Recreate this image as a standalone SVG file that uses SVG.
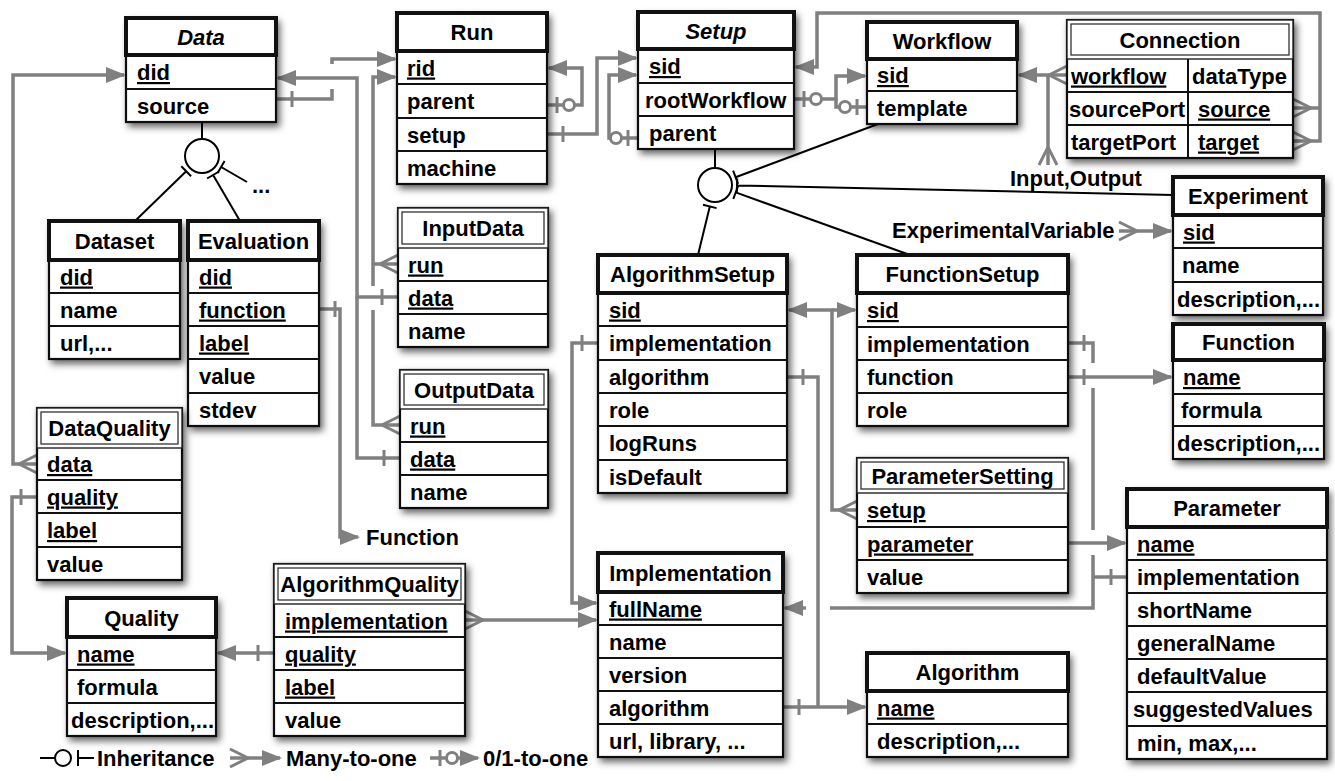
<svg xmlns="http://www.w3.org/2000/svg" width="1335" height="781" viewBox="0 0 1335 781">
<defs>
<filter id="sh" x="-10%" y="-10%" width="130%" height="130%">
<feDropShadow dx="3" dy="4" stdDeviation="3.5" flood-color="#000" flood-opacity="0.6"/>
</filter>
<marker id="arr" markerUnits="userSpaceOnUse" orient="auto" refX="0" refY="0" markerWidth="40" markerHeight="40" overflow="visible"><path d="M-18,-8 L2,0 L-18,8 Z" fill="#808080"/></marker>
<marker id="many" markerUnits="userSpaceOnUse" orient="auto" refX="0" refY="0" markerWidth="40" markerHeight="40" overflow="visible"><path d="M0,-9 L18,0 L0,9" fill="none" stroke="#808080" stroke-width="3"/></marker>
<marker id="one" markerUnits="userSpaceOnUse" orient="auto" refX="0" refY="0" markerWidth="40" markerHeight="40" overflow="visible"><path d="M16,-8 V8" stroke="#808080" stroke-width="3"/></marker>
<marker id="zo" markerUnits="userSpaceOnUse" orient="auto" refX="0" refY="0" markerWidth="40" markerHeight="40" overflow="visible"><path d="M10,-8 V8" stroke="#808080" stroke-width="3"/><circle cx="22" cy="0" r="5.5" fill="#fff" stroke="#808080" stroke-width="3"/></marker>
</defs>
<style>
text{font-family:"Liberation Sans",Arial,Helvetica,sans-serif;font-weight:bold;font-size:22px;fill:#000}
.h{text-anchor:middle}
.i{font-style:italic}
.k{text-decoration:underline}
.box{fill:#fff;stroke:#111;stroke-width:2.2;filter:url(#sh)}
.hd{fill:#fff;stroke:#111;stroke-width:4}
.hw{fill:#fff;stroke:#222;stroke-width:1.4}
.hi{fill:none;stroke:#222;stroke-width:1.2}
.sep{stroke:#111;stroke-width:2;fill:none}
.c{fill:none;stroke:#808080;stroke-width:3.5}
.s1{marker-start:url(#one)}
.sz{marker-start:url(#zo)}
.sm{marker-start:url(#many)}
.ea{marker-end:url(#arr)}
.inh{fill:none;stroke:#000;stroke-width:2}
</style>
<rect width="1335" height="781" fill="#fff"/>

<g id="connectors">
<!-- Data.source -> Run.rid -->
<path class="c s1" d="M276,99 H332 V89"/>
<path class="c ea" d="M332,64 V59 H395"/>
<!-- InputData.data / OutputData.data -> Data.did -->
<path class="c s1 ea" d="M398,297 H357 V78 H278"/>
<path class="c s1" d="M400,458 H357 V297"/>
<!-- InputData.run / OutputData.run -> Run.rid -->
<path class="c sm" d="M398,264 H373"/>
<path class="c ea" d="M373,286 V77 H395"/>
<path class="c sm" d="M400,425 H373 V310"/>
<!-- Run.parent -> Run.rid -->
<path class="c sz ea" d="M547,105 H582 V68 H549"/>
<!-- Run.setup -> Setup.sid -->
<path class="c s1 ea" d="M547,134 H597 V58 H636"/>
<!-- Setup.parent -> Setup.sid -->
<path class="c sz ea" d="M638,138 H609 V75 H636"/>
<!-- Setup.rootWorkflow -> Workflow.sid -->
<path class="c sz ea" d="M794,99 H836 V76 H865"/>
<!-- Workflow.template -> Workflow.sid -->
<path class="c sz" d="M867,107 H836 V99"/>
<!-- Connection.workflow -> Workflow.sid -->
<path class="c sm ea" d="M1067,75 H1019"/>
<path class="c sm" d="M1048,165 V75"/>
<!-- Connection.source / target -> Setup.sid -->
<path class="c sm" d="M1293,108 H1320"/>
<path class="c sm ea" d="M1293,141 H1320 V13 H817 V67 H796"/>
<!-- ExperimentalVariable -> Experiment.sid -->
<path class="c sm ea" d="M1119,231 H1171"/>
<!-- ParameterSetting.setup -> AlgorithmSetup.sid / FunctionSetup.sid -->
<path class="c sm ea" d="M857,510 H832 V310 H789"/>
<path class="c ea" d="M832,310 H855"/>
<!-- AlgorithmSetup.implementation -> Implementation.fullName -->
<path class="c s1 ea" d="M598,343 H572 V603 H596"/>
<!-- AlgorithmQuality.implementation -> Implementation.fullName -->
<path class="c sm ea" d="M465,620 H596"/>
<!-- AlgorithmQuality.quality -> Quality.name -->
<path class="c s1 ea" d="M274,653 H218"/>
<!-- DataQuality.quality -> Quality.name -->
<path class="c s1 ea" d="M37,497 H12 V653 H65"/>
<!-- DataQuality.data -> Data.did -->
<path class="c sm ea" d="M37,464 H13 V75 H124"/>
<!-- Evaluation.function -> Function -->
<path class="c s1 ea" d="M319,309 H340 V537 H358"/>
<!-- AlgorithmSetup.algorithm / Implementation.algorithm -> Algorithm.name -->
<path class="c s1" d="M787,377 H818 V707"/>
<path class="c s1 ea" d="M783,707 H865"/>
<!-- FunctionSetup.function -> Function.name -->
<path class="c s1 ea" d="M1068,377 H1171"/>
<!-- FunctionSetup.implementation / Parameter.implementation -> Implementation.fullName -->
<path class="c s1" d="M1068,343 H1093 V363"/>
<path class="c" d="M1093,388 V530"/>
<path class="c" d="M1093,555 V608 H830"/>
<path class="c ea" d="M806,608 H785"/>
<path class="c s1" d="M1127,577 H1093"/>
<!-- ParameterSetting.parameter -> Parameter.name -->
<path class="c ea" d="M1068,543 H1125"/>

<!-- inheritance: Data -->
<path class="inh" d="M202,122 V139"/>
<circle class="inh" cx="202" cy="156" r="17"/>
<path class="inh" d="M181.3,166.3 L191.1,176.3 M186.2,171.3 L135,221"/>
<path class="inh" d="M207.1,178.5 L219.1,171.5 M213.1,175 L240,221"/>
<path class="inh" d="M217.6,173.1 L224.6,160.9 M221.1,167 L247,182"/>
<!-- inheritance: Setup -->
<path class="inh" d="M715,149 V168"/>
<circle class="inh" cx="715" cy="185" r="17"/>
<path class="inh" d="M703,204.8 L716.6,208.1 M709.8,206.4 L698,255"/>
<path class="inh" d="M733.1,170.7 L738.1,183.9 M735.6,177.3 L878,124"/>
<path class="inh" d="M737.2,178.5 L736.8,192.5 M737,185.5 L1173,195"/>
<path class="inh" d="M738.1,185.8 L733.3,199 M735.7,192.4 L910,255"/>
</g>

<g id="labels">
<text x="252" y="193">...</text>
<text x="1010" y="186">Input,Output</text>
<text x="892" y="238">ExperimentalVariable</text>
<text x="366" y="545">Function</text>
</g>

<g id="Data">
<rect class="box" x="126" y="18" width="150" height="104"/>
<rect class="hd" x="126" y="18" width="150" height="37"/>
<path class="sep" d="M126,89H276"/>
<text class="h i" x="201" y="44.5">Data</text>
<text class="k" x="137" y="80">did</text>
<text x="137" y="113.5">source</text>
</g>

<g id="Run">
<rect class="box" x="397" y="13" width="150" height="171"/>
<rect class="hd" x="397" y="13" width="150" height="38"/>
<path class="sep" d="M397,84H547M397,118H547M397,151H547"/>
<text class="h" x="472" y="40">Run</text>
<text class="k" x="407" y="75.5">rid</text>
<text x="407" y="109">parent</text>
<text x="407" y="142.5">setup</text>
<text x="407" y="175.5">machine</text>
</g>

<g id="Setup">
<rect class="box" x="638" y="12" width="156" height="137"/>
<rect class="hd" x="638" y="12" width="156" height="37"/>
<path class="sep" d="M638,83H794M638,116H794"/>
<text class="h i" x="716" y="38.5">Setup</text>
<text class="k" x="649" y="74">sid</text>
<text x="645" y="107.5">rootWorkflow</text>
<text x="649" y="140.5">parent</text>
</g>

<g id="Workflow">
<rect class="box" x="867" y="22" width="150" height="102"/>
<rect class="hd" x="867" y="22" width="150" height="37"/>
<path class="sep" d="M867,91H1017"/>
<text class="h" x="942" y="48.5">Workflow</text>
<text class="k" x="877" y="83">sid</text>
<text x="877" y="115.5">template</text>
</g>

<g id="Connection">
<rect class="box" x="1067" y="20" width="226" height="138"/>
<rect class="hw" x="1067" y="20" width="226" height="39"/>
<rect class="hi" x="1071" y="24" width="218" height="31"/>
<path class="sep" d="M1067,92H1293M1067,125H1293M1188,59V158"/>
<text class="h" x="1180" y="47.5">Connection</text>
<text class="k" x="1071" y="83.5">workflow</text>
<text x="1192" y="83.5">dataType</text>
<text x="1069" y="116.5">sourcePort</text>
<text class="k" x="1198" y="116.5">source</text>
<text x="1071" y="149.5">targetPort</text>
<text class="k" x="1198" y="149.5">target</text>
</g>

<g id="Experiment">
<rect class="box" x="1173" y="177" width="150" height="138"/>
<rect class="hd" x="1173" y="177" width="150" height="38"/>
<path class="sep" d="M1173,248H1323M1173,282H1323"/>
<text class="h" x="1248" y="204">Experiment</text>
<text class="k" x="1183" y="239.5">sid</text>
<text x="1182" y="273">name</text>
<text x="1177" y="306.5">description,...</text>
</g>

<g id="Dataset">
<rect class="box" x="49" y="221" width="131" height="138"/>
<rect class="hd" x="49" y="221" width="131" height="39"/>
<path class="sep" d="M49,293H180M49,326H180"/>
<text class="h" x="114.5" y="248.5">Dataset</text>
<text class="k" x="60" y="284.5">did</text>
<text x="60" y="317.5">name</text>
<text x="60" y="350.5">url,...</text>
</g>

<g id="Evaluation">
<rect class="box" x="188" y="221" width="131" height="205"/>
<rect class="hd" x="188" y="221" width="131" height="39"/>
<path class="sep" d="M188,293H319M188,326H319M188,359H319M188,393H319"/>
<text class="h" x="253.5" y="248.5">Evaluation</text>
<text class="k" x="199" y="284.5">did</text>
<text class="k" x="199" y="317.5">function</text>
<text class="k" x="199" y="350.5">label</text>
<text x="199" y="384">value</text>
<text x="199" y="417.5">stdev</text>
</g>

<g id="InputData">
<rect class="box" x="398" y="208" width="150" height="139"/>
<rect class="hw" x="398" y="208" width="150" height="40"/>
<rect class="hi" x="402" y="212" width="142" height="32"/>
<path class="sep" d="M398,281H548M398,314H548"/>
<text class="h" x="473" y="236">InputData</text>
<text class="k" x="408" y="272.5">run</text>
<text class="k" x="408" y="305.5">data</text>
<text x="408" y="338.5">name</text>
</g>

<g id="OutputData">
<rect class="box" x="400" y="370" width="148" height="138"/>
<rect class="hw" x="400" y="370" width="148" height="39"/>
<rect class="hi" x="404" y="374" width="140" height="31"/>
<path class="sep" d="M400,442H548M400,475H548"/>
<text class="h" x="474" y="397.5">OutputData</text>
<text class="k" x="410" y="433.5">run</text>
<text class="k" x="410" y="466.5">data</text>
<text x="410" y="499.5">name</text>
</g>

<g id="AlgorithmSetup">
<rect class="box" x="598" y="255" width="189" height="238"/>
<rect class="hd" x="598" y="255" width="189" height="38"/>
<path class="sep" d="M598,326H787M598,360H787M598,393H787M598,426H787M598,460H787"/>
<text class="h" x="692.5" y="282">AlgorithmSetup</text>
<text class="k" x="609" y="317.5">sid</text>
<text x="609" y="351">implementation</text>
<text x="609" y="384.5">algorithm</text>
<text x="609" y="417.5">role</text>
<text x="609" y="451">logRuns</text>
<text x="609" y="484.5">isDefault</text>
</g>

<g id="FunctionSetup">
<rect class="box" x="857" y="255" width="211" height="171"/>
<rect class="hd" x="857" y="255" width="211" height="38"/>
<path class="sep" d="M857,327H1068M857,360H1068M857,393H1068"/>
<text class="h" x="962.5" y="282">FunctionSetup</text>
<text class="k" x="867" y="318">sid</text>
<text x="867" y="351.5">implementation</text>
<text x="867" y="384.5">function</text>
<text x="867" y="417.5">role</text>
</g>

<g id="Function">
<rect class="box" x="1173" y="324" width="151" height="135"/>
<rect class="hd" x="1173" y="324" width="151" height="36"/>
<path class="sep" d="M1173,394H1324M1173,426H1324"/>
<text class="h" x="1248.5" y="350">Function</text>
<text class="k" x="1183" y="385">name</text>
<text x="1181" y="418">formula</text>
<text x="1177" y="450.5">description,...</text>
</g>

<g id="DataQuality">
<rect class="box" x="37" y="408" width="145" height="172"/>
<rect class="hw" x="37" y="408" width="145" height="40"/>
<rect class="hi" x="41" y="412" width="137" height="32"/>
<path class="sep" d="M37,480H182M37,513H182M37,547H182"/>
<text class="h" x="109.5" y="436">DataQuality</text>
<text class="k" x="47" y="472">data</text>
<text class="k" x="47" y="504.5">quality</text>
<text class="k" x="47" y="538">label</text>
<text x="47" y="571.5">value</text>
</g>

<g id="ParameterSetting">
<rect class="box" x="857" y="458" width="211" height="135"/>
<rect class="hw" x="857" y="458" width="211" height="35"/>
<rect class="hi" x="861" y="462" width="203" height="27"/>
<path class="sep" d="M857,527H1068M857,560H1068"/>
<text class="h" x="962.5" y="483.5">ParameterSetting</text>
<text class="k" x="867" y="518">setup</text>
<text class="k" x="867" y="551.5">parameter</text>
<text x="867" y="584.5">value</text>
</g>

<g id="Parameter">
<rect class="box" x="1127" y="489" width="200" height="270"/>
<rect class="hd" x="1127" y="489" width="200" height="38"/>
<path class="sep" d="M1127,560H1327M1127,593H1327M1127,626H1327M1127,659H1327M1127,692H1327M1127,726H1327"/>
<text class="h" x="1227" y="516">Parameter</text>
<text class="k" x="1137" y="551.5">name</text>
<text x="1137" y="584.5">implementation</text>
<text x="1137" y="617.5">shortName</text>
<text x="1137" y="650.5">generalName</text>
<text x="1137" y="683.5">defaultValue</text>
<text x="1133" y="717">suggestedValues</text>
<text x="1137" y="750.5">min, max,...</text>
</g>

<g id="Implementation">
<rect class="box" x="598" y="553" width="185" height="204"/>
<rect class="hd" x="598" y="553" width="185" height="39"/>
<path class="sep" d="M598,625H783M598,658H783M598,691H783M598,724H783"/>
<text class="h" x="690.5" y="580.5">Implementation</text>
<text class="k" x="609" y="616.5">fullName</text>
<text x="609" y="649.5">name</text>
<text x="609" y="682.5">version</text>
<text x="609" y="715.5">algorithm</text>
<text x="609" y="748.5">url, library, ...</text>
</g>

<g id="Algorithm">
<rect class="box" x="867" y="653" width="201" height="104"/>
<rect class="hd" x="867" y="653" width="201" height="38"/>
<path class="sep" d="M867,724H1068"/>
<text class="h" x="967.5" y="680">Algorithm</text>
<text class="k" x="877" y="715.5">name</text>
<text x="877" y="748.5">description,...</text>
</g>

<g id="Quality">
<rect class="box" x="67" y="598" width="149" height="138"/>
<rect class="hd" x="67" y="598" width="149" height="39"/>
<path class="sep" d="M67,670H216M67,703H216"/>
<text class="h" x="141.5" y="625.5">Quality</text>
<text class="k" x="77" y="661.5">name</text>
<text x="77" y="694.5">formula</text>
<text x="71" y="727.5">description,...</text>
</g>

<g id="AlgorithmQuality">
<rect class="box" x="274" y="564" width="191" height="172"/>
<rect class="hw" x="274" y="564" width="191" height="40"/>
<rect class="hi" x="278" y="568" width="183" height="32"/>
<path class="sep" d="M274,637H465M274,670H465M274,703H465"/>
<text class="h" x="369.5" y="592">AlgorithmQuality</text>
<text class="k" x="285" y="628.5">implementation</text>
<text class="k" x="285" y="661.5">quality</text>
<text class="k" x="285" y="694.5">label</text>
<text x="285" y="727.5">value</text>
</g>

<g id="legend">
<path class="inh" d="M40,758 H55 M78,750 V766 M78,758 H94"/>
<circle class="inh" cx="63" cy="758" r="8"/>
<text x="97" y="766">Inheritance</text>
<path class="c sm ea" d="M230,758 H280"/>
<text x="286" y="766">Many-to-one</text>
<path class="c sz ea" d="M430,758 H478"/>
<text x="483" y="766">0/1-to-one</text>
</g>
</svg>
